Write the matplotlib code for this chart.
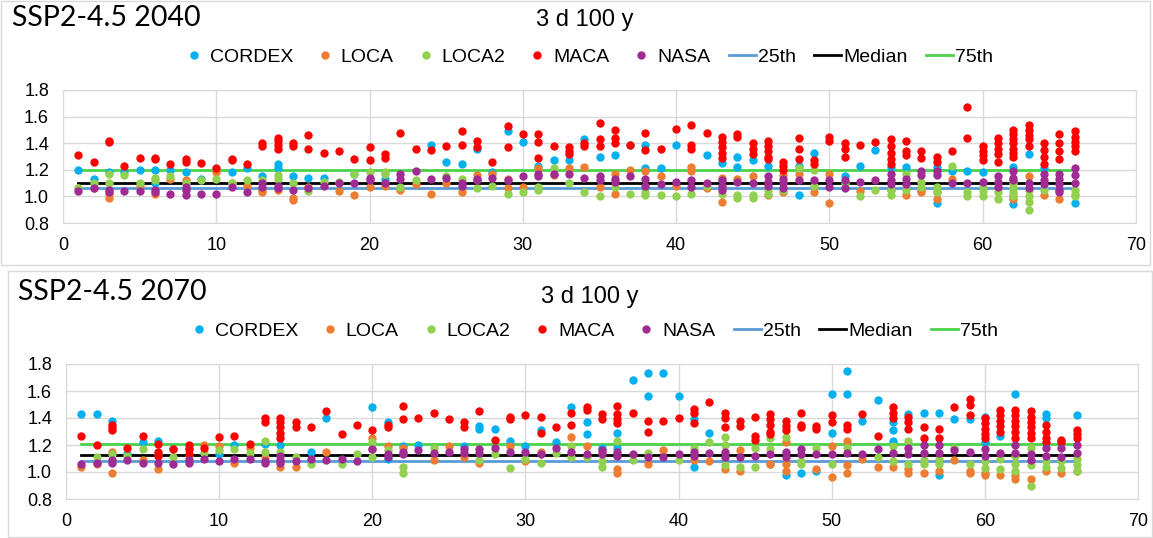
import numpy as np
import matplotlib
matplotlib.use("Agg")
import matplotlib.pyplot as plt
from matplotlib.patches import Rectangle

# ---- data: SSP2-4.5 2040, {station: [values]} ----
cordex_2040 = {1: [1.20], 2: [1.13], 3: [1.18], 4: [1.18], 5: [1.20], 6: [1.20, 1.10], 7: [1.20],
               8: [1.18], 9: [1.13], 11: [1.18], 12: [1.21], 13: [1.15], 14: [1.24, 1.21], 15: [1.15],
               16: [1.14], 17: [1.14], 19: [1.17], 21: [1.13], 24: [1.39], 25: [1.26], 26: [1.24],
               27: [1.36], 28: [1.18], 29: [1.49], 30: [1.41], 31: [1.23], 32: [1.27], 33: [1.27],
               34: [1.43], 35: [1.30], 36: [1.31], 37: [1.39], 38: [1.39, 1.21], 39: [1.21], 40: [1.39],
               42: [1.31], 43: [1.25], 44: [1.30, 1.22], 45: [1.27], 46: [1.23], 48: [1.23, 1.01],
               49: [1.33], 51: [1.15], 52: [1.23], 53: [1.35], 54: [1.22], 55: [1.22], 57: [1.22, 0.95],
               58: [1.19], 59: [1.19], 60: [1.18], 62: [1.22, 0.94], 63: [1.32], 64: [1.21], 66: [0.95]}
loca_2040 = {1: [1.06], 2: [1.06], 3: [1.02, 0.99], 5: [1.08], 6: [1.02], 7: [1.13], 8: [1.12],
             10: [1.18], 11: [1.10], 12: [1.08], 13: [1.05, 1.03], 14: [1.05], 15: [0.99, 0.97], 16: [1.07],
             18: [1.04], 19: [1.01], 20: [1.07], 21: [1.08], 22: [1.05], 23: [1.09], 24: [1.02], 25: [1.10],
             26: [1.03], 27: [1.16], 28: [1.17], 29: [1.13, 1.06], 30: [1.07], 31: [1.21], 32: [1.16],
             33: [1.21], 34: [1.22], 35: [1.07], 36: [1.17, 1.02], 37: [1.20], 38: [1.19], 39: [1.15],
             40: [1.08], 41: [1.22, 1.19], 42: [1.06], 43: [1.14, 0.96], 44: [1.13], 45: [1.15], 46: [1.01],
             47: [1.16, 1.03], 48: [1.17], 49: [1.03], 50: [1.17, 0.95], 52: [1.04], 54: [1.05], 55: [1.01],
             56: [1.05, 1.03], 57: [1.03, 0.98], 58: [1.13], 61: [1.06], 62: [1.00, 0.98], 63: [1.15],
             64: [1.01], 65: [0.98]}
loca2_2040 = {1: [1.06], 2: [1.10], 3: [1.17, 1.10], 4: [1.16], 5: [1.10], 6: [1.14, 1.12], 7: [1.15],
              8: [1.10], 9: [1.12], 10: [1.13], 11: [1.10], 12: [1.12], 13: [1.12], 14: [1.16, 1.13],
              15: [1.10], 16: [1.04], 17: [1.11], 18: [1.11], 19: [1.17], 20: [1.18], 21: [1.18, 1.17],
              22: [1.07], 23: [1.12], 25: [1.15], 26: [1.13], 27: [1.06], 28: [1.08], 29: [1.02], 30: [1.03],
              31: [1.07, 1.05], 32: [1.21], 33: [1.10], 34: [1.03], 35: [1.00], 36: [1.07], 37: [1.02],
              38: [1.03, 1.01], 39: [1.01], 40: [1.00], 41: [1.02], 42: [1.08], 43: [1.02], 44: [1.01, 0.99],
              45: [1.01, 0.99], 46: [1.05, 1.02], 47: [1.05], 48: [1.21], 49: [1.20, 1.08], 51: [1.10],
              52: [1.00], 53: [1.05], 54: [1.05, 1.01], 55: [1.17, 1.05], 56: [1.11, 1.07], 57: [1.07, 1.03],
              58: [1.23], 59: [1.03, 1.00], 60: [1.07, 1.04, 1.00], 61: [1.03, 0.98],
              62: [1.10, 1.06, 1.03, 1.00], 63: [1.05, 1.00, 0.96, 0.90], 64: [1.05], 66: [1.05, 1.02, 1.00]}
maca_2040 = {1: [1.31], 2: [1.26], 3: [1.42, 1.41], 4: [1.23], 5: [1.29], 6: [1.29, 1.28], 7: [1.24],
             8: [1.28, 1.26], 9: [1.25], 10: [1.21], 11: [1.28, 1.27], 12: [1.24], 13: [1.40, 1.38],
             14: [1.44, 1.42, 1.39, 1.36], 15: [1.40, 1.38], 16: [1.46, 1.36], 17: [1.33], 18: [1.34],
             19: [1.28], 20: [1.37, 1.27], 21: [1.32, 1.29], 22: [1.48], 23: [1.36], 24: [1.35], 25: [1.38],
             26: [1.49, 1.39], 27: [1.42, 1.37], 28: [1.26], 29: [1.53, 1.37], 30: [1.47],
             31: [1.47, 1.41, 1.29], 32: [1.38], 33: [1.37, 1.34, 1.32], 34: [1.40, 1.38],
             35: [1.55, 1.43, 1.38], 36: [1.50, 1.44, 1.40], 37: [1.39], 38: [1.48, 1.35], 39: [1.36],
             40: [1.51], 41: [1.54, 1.39, 1.36], 42: [1.48], 43: [1.45, 1.41, 1.37, 1.33, 1.29],
             44: [1.47, 1.45], 45: [1.40, 1.36, 1.32], 46: [1.42, 1.38, 1.34, 1.30, 1.28],
             47: [1.26, 1.23, 1.20], 48: [1.44, 1.36, 1.28], 49: [1.27, 1.24], 50: [1.45, 1.42],
             51: [1.40, 1.36, 1.30], 52: [1.39], 53: [1.41], 54: [1.43, 1.38, 1.33, 1.28, 1.24],
             55: [1.42, 1.34, 1.31], 56: [1.34, 1.29], 57: [1.30, 1.26], 58: [1.34], 59: [1.67, 1.44],
             60: [1.38, 1.34, 1.31, 1.27], 61: [1.44, 1.40, 1.36, 1.32, 1.26],
             62: [1.50, 1.47, 1.43, 1.40, 1.36, 1.33, 1.30], 63: [1.54, 1.50, 1.46, 1.43, 1.38],
             64: [1.40, 1.35, 1.30, 1.24], 65: [1.47, 1.40, 1.34, 1.28], 66: [1.49, 1.45, 1.41, 1.38, 1.34]}
nasa_2040 = {1: [1.04], 2: [1.06], 3: [1.05, 1.03], 4: [1.04], 5: [1.04], 6: [1.05, 1.03], 7: [1.02],
             8: [1.07, 1.05, 1.01], 9: [1.02], 10: [1.02], 11: [1.07], 12: [1.03], 13: [1.10, 1.07],
             14: [1.08, 1.06], 15: [1.05], 16: [1.06], 17: [1.08], 18: [1.10], 19: [1.10], 20: [1.14, 1.12],
             21: [1.10], 22: [1.17, 1.13], 23: [1.19], 24: [1.13], 25: [1.14], 26: [1.10, 1.08],
             27: [1.13, 1.12], 28: [1.14], 29: [1.12], 30: [1.15], 31: [1.17, 1.15], 32: [1.17], 33: [1.17],
             34: [1.14], 35: [1.15, 1.12], 36: [1.13, 1.11], 37: [1.15], 38: [1.13, 1.08], 39: [1.09],
             40: [1.11], 41: [1.12, 1.07], 42: [1.10], 43: [1.12, 1.08, 1.05], 44: [1.11], 45: [1.10],
             46: [1.15, 1.11, 1.08], 47: [1.13, 1.10, 1.06], 48: [1.12], 49: [1.12], 50: [1.12, 1.07],
             51: [1.12, 1.06], 52: [1.11], 53: [1.12], 54: [1.17, 1.12, 1.09], 55: [1.13, 1.09],
             56: [1.19, 1.16], 57: [1.19, 1.16], 58: [1.10], 59: [1.10], 60: [1.11], 61: [1.15, 1.11, 1.07],
             62: [1.19, 1.14, 1.12], 63: [1.10, 1.06], 64: [1.17, 1.12, 1.09],
             65: [1.17, 1.13, 1.09, 1.05, 1.03], 66: [1.21, 1.16, 1.10]}
pct_2040 = [1.06, 1.10, 1.195]   # 25th, median, 75th

# ---- data: SSP2-4.5 2070 ----
cordex_2070 = {1: [1.43], 2: [1.43], 3: [1.38], 4: [1.13], 5: [1.22], 6: [1.23], 7: [1.17], 10: [1.13],
               11: [1.20], 13: [1.21], 14: [1.20], 16: [1.15], 17: [1.40], 20: [1.48], 21: [1.37, 1.10],
               22: [1.19], 23: [1.20], 26: [1.19], 27: [1.34, 1.32], 28: [1.32], 29: [1.23], 30: [1.19],
               31: [1.31], 32: [1.22], 33: [1.48], 34: [1.37, 1.28], 35: [1.18], 36: [1.29, 1.18],
               37: [1.68], 38: [1.73, 1.56], 39: [1.73], 40: [1.56], 41: [1.39, 1.04], 42: [1.29],
               46: [1.06], 47: [0.98], 48: [0.99], 49: [1.01], 50: [1.58, 1.29], 51: [1.75, 1.58],
               52: [1.38], 53: [1.53], 54: [1.37, 1.31, 1.23], 55: [1.43], 56: [1.44], 57: [1.44, 0.98],
               58: [1.39], 59: [1.39], 60: [1.41, 1.22], 61: [1.27], 62: [1.58], 64: [1.43, 1.40], 66: [1.42]}
loca_2070 = {1: [1.04], 2: [1.06], 3: [1.15, 0.99], 5: [1.09], 6: [1.02], 8: [1.17], 9: [1.20], 10: [1.19],
             11: [1.07], 12: [1.18], 13: [1.11], 14: [1.04], 15: [1.04], 17: [1.15], 20: [1.25, 1.17],
             21: [1.19], 22: [1.18], 24: [1.09], 25: [1.19], 26: [1.11], 27: [1.07], 29: [1.19], 30: [1.08],
             31: [1.15], 33: [1.26], 34: [1.19], 35: [1.15], 36: [1.02, 0.99], 38: [1.06], 39: [1.16],
             41: [1.09], 42: [1.08], 43: [1.02], 44: [1.16, 1.01], 46: [1.06], 47: [1.22, 1.06, 1.01],
             49: [1.02], 50: [1.19, 0.96], 51: [1.23, 1.05, 0.99], 52: [1.10], 53: [1.04], 54: [1.04],
             55: [1.02, 0.99], 56: [0.99], 57: [1.01], 58: [1.09], 59: [1.01, 0.99], 60: [0.99, 0.98],
             61: [0.98], 62: [0.98, 0.95], 63: [0.95], 64: [1.01], 65: [0.99], 66: [1.01]}
loca2_2070 = {2: [1.11], 3: [1.13], 4: [1.12], 5: [1.17], 6: [1.14], 7: [1.11], 8: [1.11], 9: [1.14],
              10: [1.16], 11: [1.17], 12: [1.14], 13: [1.23, 1.15], 14: [1.15], 15: [1.11], 16: [1.06],
              18: [1.06], 19: [1.13], 20: [1.22, 1.11], 21: [1.16], 22: [1.04, 0.99], 24: [1.18], 27: [1.09],
              28: [1.13], 29: [1.03], 30: [1.10], 31: [1.07], 32: [1.14], 33: [1.19, 1.11], 34: [1.11],
              35: [1.08, 1.04], 36: [1.23], 37: [1.09], 38: [1.14], 40: [1.09], 41: [1.18], 42: [1.22],
              43: [1.26, 1.20, 1.05], 44: [1.04], 45: [1.18, 1.04], 46: [1.25, 1.17], 47: [1.26],
              48: [1.08, 1.06], 49: [1.18], 50: [1.06], 51: [1.18], 53: [1.11], 54: [1.19, 1.08],
              55: [1.23, 1.06], 56: [1.09, 1.06], 57: [1.10, 1.06], 58: [1.18], 59: [1.06], 60: [1.08, 1.03],
              61: [1.10, 1.02], 62: [1.12, 1.06, 1.01], 63: [1.18, 1.05, 0.90], 64: [1.08, 1.04],
              65: [1.08, 1.03], 66: [1.10, 1.05, 1.01]}
maca_2070 = {1: [1.27], 2: [1.20], 3: [1.35, 1.33, 1.31], 4: [1.18], 5: [1.27], 6: [1.21, 1.15, 1.12],
             7: [1.17], 8: [1.20, 1.17, 1.13], 9: [1.18], 10: [1.26], 11: [1.27], 12: [1.21], 13: [1.40, 1.37],
             14: [1.40, 1.37, 1.33, 1.29, 1.25], 15: [1.37, 1.33], 16: [1.33], 17: [1.45], 18: [1.28],
             19: [1.35], 20: [1.31], 21: [1.35, 1.33], 22: [1.49, 1.39], 23: [1.40], 24: [1.44], 25: [1.39],
             26: [1.37, 1.33], 27: [1.45], 28: [1.24], 29: [1.41, 1.39], 30: [1.42], 31: [1.41, 1.29],
             32: [1.33], 33: [1.44, 1.35], 34: [1.48, 1.46], 35: [1.43, 1.39], 36: [1.49, 1.43, 1.39, 1.36],
             37: [1.44], 38: [1.38, 1.30], 39: [1.38], 40: [1.40], 41: [1.47, 1.44, 1.36], 42: [1.52],
             43: [1.44, 1.40, 1.33], 44: [1.38, 1.34], 45: [1.41, 1.27, 1.24], 46: [1.43, 1.39, 1.35, 1.30, 1.28],
             47: [1.38, 1.34, 1.31], 48: [1.44, 1.35, 1.33], 49: [1.34, 1.32], 50: [1.42, 1.37],
             51: [1.35, 1.32], 52: [1.43], 53: [1.27], 54: [1.48, 1.44, 1.40], 55: [1.41, 1.37, 1.32],
             56: [1.33, 1.25], 57: [1.32, 1.25], 58: [1.48], 59: [1.54, 1.50, 1.42],
             60: [1.40, 1.36, 1.32, 1.28, 1.25], 61: [1.46, 1.42, 1.38, 1.34, 1.30],
             62: [1.46, 1.42, 1.38, 1.34, 1.30, 1.25], 63: [1.45, 1.41, 1.37, 1.33, 1.29, 1.25],
             64: [1.35, 1.30, 1.25, 1.22], 65: [1.24, 1.22], 66: [1.31, 1.28, 1.25]}
nasa_2070 = {1: [1.06], 2: [1.07], 3: [1.09, 1.07], 4: [1.09], 5: [1.07], 6: [1.07], 7: [1.06],
             8: [1.09, 1.07], 9: [1.10], 10: [1.08], 11: [1.10], 12: [1.10], 13: [1.08, 1.07],
             14: [1.12, 1.09, 1.07], 15: [1.08], 16: [1.10], 17: [1.09], 18: [1.10], 19: [1.08], 20: [1.17],
             21: [1.13, 1.11], 22: [1.15, 1.13], 23: [1.16], 24: [1.14], 25: [1.15], 26: [1.17, 1.14],
             27: [1.17, 1.14], 28: [1.18], 29: [1.15], 30: [1.15], 31: [1.13], 32: [1.18], 33: [1.15],
             34: [1.13], 35: [1.16, 1.13], 36: [1.15, 1.12], 37: [1.13], 38: [1.11], 39: [1.11], 40: [1.13],
             41: [1.15, 1.12], 42: [1.14], 43: [1.15, 1.11], 44: [1.11], 45: [1.12], 46: [1.13],
             47: [1.15, 1.11], 48: [1.17, 1.13], 49: [1.13], 50: [1.13], 51: [1.14], 52: [1.13], 53: [1.17],
             54: [1.14], 55: [1.18, 1.13], 56: [1.20, 1.14], 57: [1.20, 1.14], 58: [1.16], 59: [1.15],
             60: [1.17, 1.12], 61: [1.14], 62: [1.20, 1.14], 63: [1.13, 1.09], 64: [1.18, 1.12],
             65: [1.18, 1.11], 66: [1.20, 1.14]}
pct_2070 = [1.078, 1.128, 1.21]

series_names = ["CORDEX", "LOCA", "LOCA2", "MACA", "NASA"]
series_colors = ["#00B0F0", "#ED7D31", "#92D050", "#FF0000", "#A02B93"]
pct_names = ["25th", "Median", "75th"]
pct_colors = ["#5B9BD5", "#000000", "#4CD34C"]
x_range = [1, 66]

W, H = 1153, 538
plt.rcParams['font.family'] = ['Liberation Sans', 'DejaVu Sans']


def flatten(d):
    xs, ys = [], []
    for k, vals in d.items():
        for v in vals:
            xs.append(k)
            ys.append(v)
    return xs, ys


def fx(px):
    return px / W


def fy(py):
    return 1 - py / H


def panel(fig, rect, series, pct, title, title_xy, sub_xy, leg_xy):
    l, t, r, b = rect
    ax = fig.add_axes([fx(l), fy(b), fx(r) - fx(l), fy(t) - fy(b)])
    # percentile lines
    for val, name, col in zip(pct, pct_names, pct_colors):
        ax.plot(x_range, [val, val], color=col, lw=2.0, label=name, zorder=2)
    # scatter series
    for d, name, col in zip(series, series_names, series_colors):
        xs, ys = flatten(d)
        ax.plot(xs, ys, 'o', ms=6, mec='none', color=col, label=name, zorder=3)

    ax.set_xlim(0, 70)
    ax.set_ylim(0.8, 1.8)
    ax.set_xticks(np.arange(0, 71, 10))
    ax.set_yticks(np.arange(0.8, 1.81, 0.2))
    ax.yaxis.set_major_formatter(matplotlib.ticker.FormatStrFormatter('%.1f'))
    ax.grid(True, color='#d9d9d9', lw=1)
    ax.set_axisbelow(True)
    for s in ax.spines.values():
        s.set_color('#d9d9d9')
    ax.tick_params(length=0, labelsize=13, colors='#000000', pad=10)

    fig.text(fx(title_xy[0]), fy(title_xy[1]), title, fontsize=20.5, family=['Lato', 'DejaVu Sans'],
             va='center', ha='left')
    fig.text(fx(sub_xy[0]), fy(sub_xy[1]), "3 d 100 y", fontsize=17, va='center', ha='center')

    h, lab = ax.get_legend_handles_labels()
    order = [3, 4, 5, 6, 7, 0, 1, 2]
    fig.legend([h[i] for i in order], [lab[i] for i in order], loc='center',
               bbox_to_anchor=(fx(leg_xy[0]), fy(leg_xy[1])), ncol=8, frameon=False,
               fontsize=14, handlelength=1.4, handletextpad=0.1, columnspacing=0.95,
               borderpad=0, borderaxespad=0)
    return ax


fig = plt.figure(figsize=(W / 100, H / 100), dpi=100)

# chart frames
fig.patches.append(Rectangle((fx(1), fy(265)), fx(1149), fy(1) - fy(265), transform=fig.transFigure,
                             fill=False, ec='#d9d9d9', lw=1))
fig.patches.append(Rectangle((fx(8), fy(537)), fx(1144), fy(271) - fy(537), transform=fig.transFigure,
                             fill=False, ec='#d9d9d9', lw=1))

panel(fig, (63, 90, 1136, 223),
      [cordex_2040, loca_2040, loca2_2040, maca_2040, nasa_2040], pct_2040,
      "SSP2-4.5 2040", (12, 18), (585, 20), (587, 57))
panel(fig, (66, 364, 1138, 499),
      [cordex_2070, loca_2070, loca2_2070, maca_2070, nasa_2070], pct_2070,
      "SSP2-4.5 2070", (18, 292), (590, 297), (592, 331))

fig.savefig("out.png", dpi=100)
